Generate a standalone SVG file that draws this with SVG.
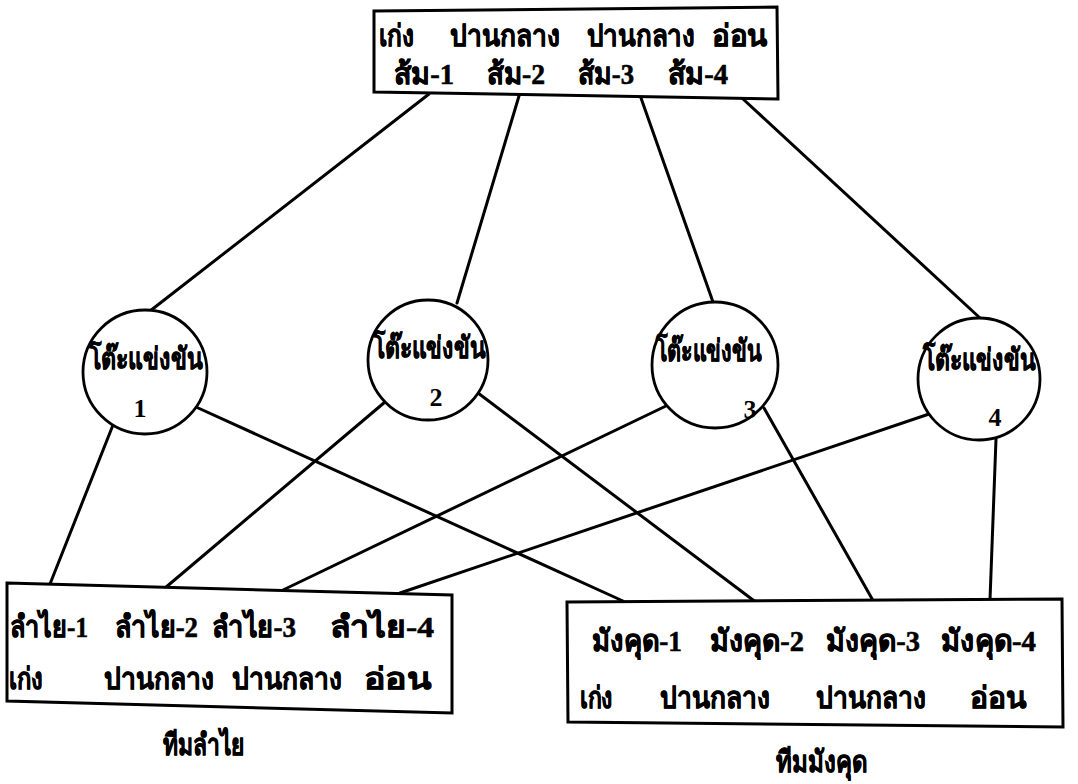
<svg xmlns="http://www.w3.org/2000/svg" width="1078" height="784" viewBox="0 0 1078 784">
<style>
.t{font-family:"Liberation Serif","Noto Sans CJK SC",serif;font-weight:bold;font-size:30px;fill:#000;stroke:#000;stroke-width:0.6}
.n{font-family:"Liberation Serif",serif;font-weight:bold;font-size:26px;fill:#000}
.box{fill:#fff;stroke:#000;stroke-width:3}
.c{fill:#fff;stroke:#000;stroke-width:2.8}
.l{stroke:#000;stroke-width:3;fill:none;stroke-linecap:round}
</style>
<rect width="1078" height="784" fill="#fff"/>
<g id="connectors">
<line class="l" x1="429" y1="94" x2="150" y2="311"/>
<line class="l" x1="519" y1="96" x2="457" y2="303"/>
<line class="l" x1="641" y1="98" x2="713" y2="302"/>
<line class="l" x1="743" y1="99" x2="980" y2="318"/>
<line class="l" x1="113" y1="425" x2="50" y2="584"/>
<line class="l" x1="196" y1="407" x2="623" y2="601"/>
<line class="l" x1="385" y1="402" x2="165" y2="588"/>
<line class="l" x1="478" y1="393" x2="757" y2="603"/>
<line class="l" x1="668" y1="405" x2="283" y2="590"/>
<line class="l" x1="764" y1="408" x2="875" y2="604"/>
<line class="l" x1="935" y1="412" x2="400" y2="593"/>
<line class="l" x1="996" y1="439" x2="990" y2="600"/>
</g>
<g id="top-box">
<polygon class="box" points="374,11 777,7 778,99 374,92"/>
<text class="t" x="379" y="46" textLength="35" lengthAdjust="spacingAndGlyphs">เก่ง</text>
<text class="t" x="450" y="46" textLength="110" lengthAdjust="spacingAndGlyphs">ปานกลาง</text>
<text class="t" x="587" y="46" textLength="108" lengthAdjust="spacingAndGlyphs">ปานกลาง</text>
<text class="t" x="712" y="46" textLength="56" lengthAdjust="spacingAndGlyphs">อ่อน</text>
<text class="t" x="394" y="84" textLength="60" lengthAdjust="spacingAndGlyphs">ส้ม-1</text>
<text class="t" x="487" y="84" textLength="58" lengthAdjust="spacingAndGlyphs">ส้ม-2</text>
<text class="t" x="578" y="84" textLength="56" lengthAdjust="spacingAndGlyphs">ส้ม-3</text>
<text class="t" x="668" y="84" textLength="60" lengthAdjust="spacingAndGlyphs">ส้ม-4</text>
</g>
<g id="table-1">
<circle class="c" cx="145" cy="372" r="62"/>
<text class="t" x="89" y="369" textLength="114" lengthAdjust="spacingAndGlyphs">โต๊ะแข่งขัน</text>
<text class="n" x="140" y="417" text-anchor="middle">1</text>
</g>
<g id="table-2">
<circle class="c" cx="428" cy="360" r="60"/>
<text class="t" x="373" y="358" textLength="113" lengthAdjust="spacingAndGlyphs">โต๊ะแข่งขัน</text>
<text class="n" x="436" y="406" text-anchor="middle">2</text>
</g>
<g id="table-3">
<circle class="c" cx="715" cy="365" r="63"/>
<text class="t" x="656" y="361" textLength="106" lengthAdjust="spacingAndGlyphs">โต๊ะแข่งขัน</text>
<text class="n" x="750" y="418" text-anchor="middle">3</text>
</g>
<g id="table-4">
<circle class="c" cx="979" cy="379" r="61"/>
<text class="t" x="923" y="370" textLength="113" lengthAdjust="spacingAndGlyphs">โต๊ะแข่งขัน</text>
<text class="n" x="995" y="426" text-anchor="middle">4</text>
</g>
<g id="team-lamyai">
<polygon class="box" points="7,583 452,595 452,713 7,701"/>
<text class="t" x="10" y="637" textLength="78" lengthAdjust="spacingAndGlyphs">ลำไย-1</text>
<text class="t" x="115" y="637" textLength="83" lengthAdjust="spacingAndGlyphs">ลำไย-2</text>
<text class="t" x="212" y="637" textLength="84" lengthAdjust="spacingAndGlyphs">ลำไย-3</text>
<text class="t" x="330" y="637" textLength="104" lengthAdjust="spacingAndGlyphs">ลำไย-4</text>
<text class="t" x="9" y="689" textLength="34" lengthAdjust="spacingAndGlyphs">เก่ง</text>
<text class="t" x="104" y="689" textLength="110" lengthAdjust="spacingAndGlyphs">ปานกลาง</text>
<text class="t" x="232" y="689" textLength="110" lengthAdjust="spacingAndGlyphs">ปานกลาง</text>
<text class="t" x="364" y="689" textLength="68" lengthAdjust="spacingAndGlyphs">อ่อน</text>
<text class="t" x="163" y="755" textLength="82" lengthAdjust="spacingAndGlyphs">ทีมลำไย</text>
</g>
<g id="team-mangkhut">
<polygon class="box" points="567,602 1062,599 1063,727 568,722"/>
<text class="t" x="592" y="651" textLength="90" lengthAdjust="spacingAndGlyphs">มังคุด-1</text>
<text class="t" x="710" y="651" textLength="94" lengthAdjust="spacingAndGlyphs">มังคุด-2</text>
<text class="t" x="826" y="651" textLength="94" lengthAdjust="spacingAndGlyphs">มังคุด-3</text>
<text class="t" x="941" y="651" textLength="95" lengthAdjust="spacingAndGlyphs">มังคุด-4</text>
<text class="t" x="580" y="708" textLength="33" lengthAdjust="spacingAndGlyphs">เก่ง</text>
<text class="t" x="660" y="708" textLength="110" lengthAdjust="spacingAndGlyphs">ปานกลาง</text>
<text class="t" x="816" y="708" textLength="110" lengthAdjust="spacingAndGlyphs">ปานกลาง</text>
<text class="t" x="970" y="708" textLength="57" lengthAdjust="spacingAndGlyphs">อ่อน</text>
<text class="t" x="776" y="772" textLength="91" lengthAdjust="spacingAndGlyphs">ทีมมังคุด</text>
</g>
</svg>
